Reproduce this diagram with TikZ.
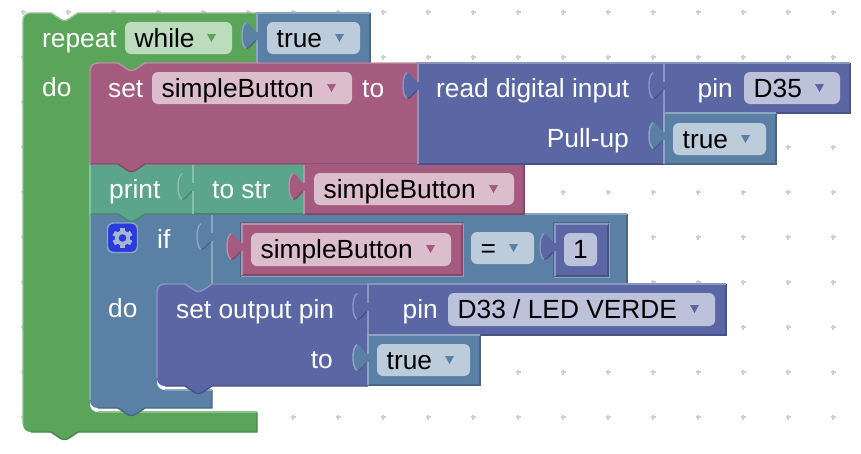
\documentclass[tikz,border=0pt]{standalone}
\usepackage{fontspec}
\setmainfont{Liberation Sans}
\usetikzlibrary{positioning, calc}

\definecolor{blockGreen}{HTML}{5BA55B}
\definecolor{blockGreenL}{HTML}{8CC08C}
\definecolor{blockGreenD}{HTML}{498449}
\definecolor{blockGreenF}{HTML}{BDDBBD}
\definecolor{blockBlue}{HTML}{5B80A5}
\definecolor{blockBlueL}{HTML}{8CA6C0}
\definecolor{blockBlueD}{HTML}{496684}
\definecolor{blockBlueF}{HTML}{BDCCDB}
\definecolor{blockMaroon}{HTML}{A55B80}
\definecolor{blockMaroonL}{HTML}{C08CA6}
\definecolor{blockMaroonD}{HTML}{844966}
\definecolor{blockMaroonF}{HTML}{DBBDCC}
\definecolor{blockPurple}{HTML}{5B67A5}
\definecolor{blockPurpleL}{HTML}{8C95C0}
\definecolor{blockPurpleD}{HTML}{495284}
\definecolor{blockPurpleF}{HTML}{BDC2DB}
\definecolor{blockTeal}{HTML}{5BA58C}
\definecolor{blockTealL}{HTML}{8CC0AE}
\definecolor{blockTealD}{HTML}{498470}
\definecolor{gridDot}{HTML}{CFCFCF}
\definecolor{iconBlue}{HTML}{2A3BDC}
\definecolor{gearGrey}{HTML}{A9B5D6}

\newcommand{\blockfont}{\fontsize{26.3}{30}\selectfont}

\tikzset{
    blocklabel/.style={text=white, font=\blockfont, inner sep=0pt, anchor=base west},
    blocklabelright/.style={text=white, font=\blockfont, inner sep=0pt, anchor=base east},
    fieldtext/.style={text=black, font=\blockfont, inner sep=0pt, anchor=base west},
    edgeline/.style={line width=1.4pt}
}

% path pieces, all of them take the corner where they start or end
\newcommand{\notchtop}[2]{-- (#1,#2) -- (#1+9,#2+6) .. controls (#1+12,#2+8) and (#1+15,#2+8) .. (#1+18,#2+6) -- (#1+27,#2)}
\newcommand{\tabbottom}[2]{-- (#1+27,#2) -- (#1+18,#2+6) .. controls (#1+15,#2+8) and (#1+12,#2+8) .. (#1+9,#2+6) -- (#1,#2)}
\newcommand{\puzzletab}[2]{-- (#1,#2+27) .. controls (#1-4,#2+27.5) and (#1-7,#2+35.5) .. (#1-11,#2+35.5)
    .. controls (#1-14,#2+33) and (#1-15,#2+28) .. (#1-15,#2+22.5)
    .. controls (#1-15,#2+17) and (#1-14,#2+12) .. (#1-11,#2+9.5)
    .. controls (#1-7,#2+9.5) and (#1-4,#2+18.5) .. (#1,#2+19)}

% left, top, right, bottom, colour
\newcommand{\valueblock}[5]{%
    \fill[block#5] (#1,#2) -- (#3,#2) -- (#3,#4) -- (#1,#4) \puzzletab{#1}{#2} -- cycle;
    \draw[block#5D, edgeline] (#3,#2) -- (#3,#4) -- (#1,#4);
    \draw[block#5L, edgeline] (#1,#4) -- (#1,#2+27);
    \draw[block#5L, edgeline] (#1,#2+19) -- (#1,#2) -- (#3,#2);
    \draw[block#5D, edgeline] (#1-1,#2+27.5) .. controls (#1-4,#2+29) and (#1-7,#2+35.5) .. (#1-11,#2+35.5);
    \draw[block#5L, edgeline] (#1-11,#2+35.5) .. controls (#1-14,#2+33) and (#1-15,#2+28) .. (#1-15,#2+22.5)
        .. controls (#1-15,#2+17) and (#1-14,#2+12) .. (#1-11,#2+9.5);
}
% name, left, top, right, bottom, colour, text
\newcommand{\fieldbox}[7]{%
    \fill[block#6F, rounded corners=6pt] (#2,#3) rectangle (#4,#5);
    \node[fieldtext] (#1) at (#2+9.5,#3+25) {#7};
    \fill[block#6] (#4-25,#3+12) -- (#4-16,#3+12) -- (#4-20.5,#3+20) -- cycle;
}
% socket edge round a block that sits inside another one
\newcommand{\insetframe}[5]{%
    \draw[block#5L, edgeline] (#3+1.5,#2-1.5) -- (#3+1.5,#4+1.5) -- (#1-1.5,#4+1.5);
    \draw[block#5D, edgeline] (#1-1.5,#4+1.5) -- (#1-1.5,#2-1.5) -- (#3+1.5,#2-1.5);
}

\begin{document}
\begin{tikzpicture}[x=1pt, y=-1pt]
    \useasboundingbox (0,0) rectangle (861,453);

    % === GRID ===
    \foreach \i in {0,1,...,18} {
        \foreach \j in {0,1,...,9} {
            \pgfmathsetmacro{\gx}{23 + \i * 45}
            \pgfmathsetmacro{\gy}{12 + \j * 45}
            \draw[gridDot, line width=1.5pt] (\gx-2.5,\gy) -- (\gx+2.5,\gy) (\gx,\gy-2.5) -- (\gx,\gy+2.5);
        }
    }

    % === 1. REPEAT WHILE ===
    \fill[blockGreen] (23,21) .. controls (23,16) and (26,13) .. (31,13)
        \notchtop{51}{13} -- (257,13) -- (257,63) \tabbottom{118}{63}
        -- (98,63) .. controls (93,63) and (90,66) .. (90,71)
        -- (90,404) .. controls (90,409) and (93,412) .. (98,412)
        -- (257,412) -- (257,432) \tabbottom{51}{432}
        -- (31,432) .. controls (26,432) and (23,429) .. (23,424) -- cycle;
    \draw[blockGreenD, edgeline] (257,412) -- (257,432) \tabbottom{51}{432} -- (31,432);
    \draw[blockGreenL, edgeline] (23,424) -- (23,21) .. controls (23,16) and (26,13) .. (31,13)
        \notchtop{51}{13} -- (257,13);
    \draw[blockGreenL, edgeline] (98,412) -- (257,412);
    \node[blocklabel] (repeatLabel) at (42,47) {repeat};
    \node[blocklabel] (doLabel) at (42,96) {do};
    \fieldbox{whileField}{125}{22}{232}{54}{Green}{while}
    \valueblock{257}{13}{370}{63}{Blue}
    \fieldbox{trueFieldA}{267}{22}{360}{54}{Blue}{true}

    % === 2. IF ===
    \fill[blockBlue] (90,214) \notchtop{118}{214} -- (212,214) -- (212,284) \tabbottom{185}{284}
        -- (165,284) .. controls (160,284) and (157,287) .. (157,292)
        -- (157,382) .. controls (157,387) and (160,390) .. (165,390)
        -- (212,390) -- (212,408) \tabbottom{118}{408}
        -- (98,408) .. controls (93,408) and (90,405) .. (90,400) -- cycle;
    \draw[blockBlueD, edgeline] (212,390) -- (212,408) \tabbottom{118}{408} -- (98,408);
    \draw[blockBlueL, edgeline] (90,400) -- (90,214);
    \draw[blockBlueL, edgeline] (165,390) -- (212,390);
    \node[blocklabel] (ifLabel) at (157,248) {if};
    \node[blocklabel] (doLabelB) at (108,317) {do};

    % gear button
    \fill[iconBlue, draw=blockBlueL, line width=1.4pt, rounded corners=6pt] (107.5,223) rectangle (137.5,252.5);
    \foreach \a in {0,60,...,300} {
        \fill[gearGrey, rotate around={\a:(122.5,238)}] (120,228) rectangle (125,233);
    }
    \fill[gearGrey] (122.5,238) circle (7.5pt);
    \fill[iconBlue] (122.5,238) circle (3.8pt);

    % compare block
    \valueblock{212}{214}{627}{284}{Blue}
    \insetframe{242}{224}{462}{275}{Blue}
    \valueblock{242}{224}{462}{275}{Maroon}
    \fieldbox{varFieldB}{251}{233}{451}{266}{Maroon}{simpleButton}
    \fieldbox{equalField}{471}{232}{534}{264}{Blue}{=}
    \insetframe{555}{224}{608}{276}{Blue}
    \valueblock{555}{224}{608}{276}{Purple}
    \fill[blockPurpleF, rounded corners=6pt] (564,233) rectangle (597,266);
    \node[fieldtext, anchor=base] (oneField) at (580.5,258) {1};

    % === 3. SET OUTPUT PIN ===
    \fill[blockPurple] (157,292) .. controls (157,287) and (160,284) .. (165,284)
        \notchtop{185}{284} -- (368,284) -- (368,386) \tabbottom{185}{386}
        -- (165,386) .. controls (160,386) and (157,383) .. (157,378) -- cycle;
    \draw[blockPurpleD, edgeline] (368,386) \tabbottom{185}{386} -- (165,386);
    \draw[blockPurpleL, edgeline] (157,378) -- (157,292) .. controls (157,287) and (160,284) .. (165,284)
        \notchtop{185}{284} -- (368,284);
    \node[blocklabel] (outputLabel) at (176,318) {set output pin};
    \node[blocklabelright] (toLabelB) at (333,368) {to};
    \valueblock{368}{284}{726}{335}{Purple}
    \node[blocklabelright] (pinLabelB) at (438,318) {pin};
    \fieldbox{ledField}{448}{293}{715}{326}{Purple}{D33 / LED VERDE}
    \valueblock{368}{335}{480}{385}{Blue}
    \fieldbox{trueFieldC}{377}{344}{470}{376}{Blue}{true}

    % === 4. PRINT ===
    \fill[blockTeal] (90,164) \notchtop{118}{164} -- (193,164) -- (193,214) \tabbottom{118}{214} -- (90,214) -- cycle;
    \draw[blockTealD, edgeline] (193,214) \tabbottom{118}{214} -- (90,214);
    \draw[blockTealL, edgeline] (90,214) -- (90,164) -- (193,164);
    \node[blocklabel] (printLabel) at (109,198) {print};
    \valueblock{193}{164}{304}{214}{Teal}
    \node[blocklabel] (strLabel) at (212,198) {to str};
    \valueblock{304}{164}{524}{214}{Maroon}
    \fieldbox{varFieldA}{314}{173}{514}{205}{Maroon}{simpleButton}

    % === 5. SET simpleButton ===
    \fill[blockMaroon] (90,71) .. controls (90,66) and (93,63) .. (98,63)
        \notchtop{118}{63} -- (418,63) -- (418,164) \tabbottom{118}{164} -- (90,164) -- cycle;
    \draw[blockMaroonD, edgeline] (418,164) \tabbottom{118}{164} -- (90,164);
    \draw[blockMaroonL, edgeline] (90,164) -- (90,71) .. controls (90,66) and (93,63) .. (98,63)
        \notchtop{118}{63} -- (418,63);
    \node[blocklabel] (setLabel) at (108,97) {set};
    \fieldbox{varField}{152}{72}{352}{104}{Maroon}{simpleButton}
    \node[blocklabel] (toLabel) at (362,97) {to};

    % === 6. READ DIGITAL INPUT ===
    \valueblock{418}{63}{664}{164}{Purple}
    \node[blocklabel] (readLabel) at (436,97) {read digital input};
    \node[blocklabelright] (pullLabel) at (629,147) {Pull-up};
    \valueblock{664}{63}{850}{113}{Purple}
    \node[blocklabelright] (pinLabel) at (733,97) {pin};
    \fieldbox{pinField}{744}{72}{840}{104}{Purple}{D35}
    \valueblock{664}{113}{776}{164}{Blue}
    \fieldbox{trueFieldB}{673}{123}{766}{155}{Blue}{true}

\end{tikzpicture}
\end{document}
